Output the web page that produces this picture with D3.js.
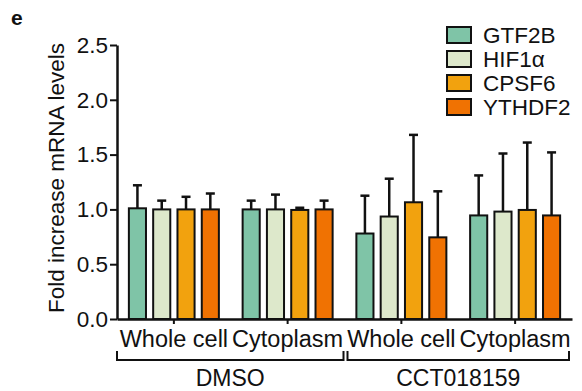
<!DOCTYPE html>
<html>
<head>
<meta charset="utf-8">
<script src="https://cdn.jsdelivr.net/npm/d3@7"></script>
<style>
  body { margin: 0; background: #fff; }
  text { font-family: "Liberation Sans", Arial, sans-serif; fill: #111; }
</style>
</head>
<body>
<div id="chart"></div>
<script>
// fractions along the x axis, and the treatment each belongs to
const fractions = ["DMSO|Whole cell", "DMSO|Cytoplasm", "CCT|Whole cell", "CCT|Cytoplasm"];
const fractionLabels = ["Whole cell", "Cytoplasm", "Whole cell", "Cytoplasm"];
const conditions = ["DMSO", "CCT018159"];
const genes = ["GTF2B", "HIF1α", "CPSF6", "YTHDF2"];
const geneColors = ["#7fc4a7", "#dde8cb", "#f2a20e", "#f07202"];

// mean fold increase per fraction (rows) and gene (columns)
const means = [
  [1.01, 1.00, 1.00, 1.00],
  [1.00, 1.00, 0.995, 1.00],
  [0.78, 0.935, 1.065, 0.745],
  [0.945, 0.98, 0.995, 0.945]
];
// upper error bar length
const errors = [
  [0.21, 0.08, 0.115, 0.145],
  [0.08, 0.135, 0.02, 0.08],
  [0.345, 0.345, 0.615, 0.42],
  [0.365, 0.53, 0.615, 0.575]
];
const yTicks = [0, 0.5, 1.0, 1.5, 2.0, 2.5];

const W = 582, H = 391;
const svg = d3.select("#chart").append("svg")
    .attr("width", W)
    .attr("height", H);

const x0 = d3.scaleBand()
    .domain(fractions)
    .range([117, 572])
    .padding(0);

const x1 = d3.scaleBand()
    .domain(genes)
    .range([-45, 45])
    .paddingInner(0.296);

const y = d3.scaleLinear()
    .domain([0, 2.5])
    .range([319, 45]);

const color = d3.scaleOrdinal(genes, geneColors);

// panel letter
svg.append("text")
    .attr("x", 11)
    .attr("y", 25)
    .style("font-size", "21px")
    .style("font-weight", "bold")
    .text("e");

// y axis
const yAxis = svg.append("g")
    .attr("transform", "translate(117,0)")
    .call(d3.axisLeft(y).tickValues(yTicks).tickFormat(d3.format(".1f")).tickSize(7).tickSizeOuter(0));
yAxis.select(".domain").attr("stroke", "#111").attr("stroke-width", 2.5);
yAxis.selectAll(".tick line").attr("stroke", "#111").attr("stroke-width", 2);
yAxis.selectAll(".tick text")
    .attr("x", -9)
    .style("font-size", "22.5px")
    .style("font-family", "Liberation Sans, Arial, sans-serif")
    .attr("fill", "#111");

svg.append("text")
    .attr("transform", "translate(64,178) rotate(-90)")
    .attr("text-anchor", "middle")
    .style("font-size", "22.5px")
    .text("Fold increase mRNA levels");

// bars
const rows = fractions.map((f, i) => ({
    fraction: f,
    values: genes.map((g, j) => ({ gene: g, mean: means[i][j], err: errors[i][j] }))
}));

const group = svg.selectAll(".group")
    .data(rows)
    .enter()
    .append("g")
    .attr("class", "group")
    .attr("transform", d => "translate(" + (x0(d.fraction) + x0.bandwidth() / 2) + ",0)");

const bw = x1.bandwidth();

// error bars behind bars
group.selectAll(".err")
    .data(d => d.values)
    .enter()
    .append("line")
    .attr("x1", d => x1(d.gene) + bw / 2)
    .attr("x2", d => x1(d.gene) + bw / 2)
    .attr("y1", d => y(d.mean))
    .attr("y2", d => y(d.mean + d.err))
    .attr("stroke", "#111")
    .attr("stroke-width", 2.5);

group.selectAll(".cap")
    .data(d => d.values)
    .enter()
    .append("line")
    .attr("x1", d => x1(d.gene) + bw / 2 - 4.5)
    .attr("x2", d => x1(d.gene) + bw / 2 + 4.5)
    .attr("y1", d => y(d.mean + d.err))
    .attr("y2", d => y(d.mean + d.err))
    .attr("stroke", "#111")
    .attr("stroke-width", 2.5);

group.selectAll("rect")
    .data(d => d.values)
    .enter()
    .append("rect")
    .attr("x", d => x1(d.gene))
    .attr("y", d => y(d.mean))
    .attr("width", bw)
    .attr("height", d => y(0) - y(d.mean))
    .attr("fill", d => color(d.gene))
    .attr("stroke", "#111")
    .attr("stroke-width", 2);

// x axis
const xAxis = svg.append("g")
    .attr("transform", "translate(0,319)")
    .call(d3.axisBottom(x0).tickSize(5).tickSizeOuter(0).tickFormat(""));
xAxis.select(".domain").attr("stroke", "#111").attr("stroke-width", 2.5);
xAxis.selectAll(".tick line").attr("stroke", "#111").attr("stroke-width", 2);

svg.selectAll(".xlab")
    .data(fractions)
    .enter()
    .append("text")
    .attr("class", "xlab")
    .attr("x", d => x0(d) + x0.bandwidth() / 2)
    .attr("y", 347)
    .attr("text-anchor", "middle")
    .style("font-size", "23.5px")
    .text((d, i) => fractionLabels[i]);

// treatment brackets
conditions.forEach((c, i) => {
    const a = x0(fractions[i * 2]) + (i === 0 ? 0 : 3);
    const b = x0(fractions[i * 2 + 1]) + x0.bandwidth() - (i === 0 ? 1 : 3);
    svg.append("path")
        .attr("d", `M${a},351V360H${b}V351`)
        .attr("fill", "none")
        .attr("stroke", "#111")
        .attr("stroke-width", 2);
    svg.append("text")
        .attr("x", (a + b) / 2)
        .attr("y", 386)
        .attr("text-anchor", "middle")
        .style("font-size", "23px")
        .text(c);
});

// legend
const legend = svg.selectAll(".legend")
    .data(genes)
    .enter()
    .append("g")
    .attr("class", "legend")
    .attr("transform", (d, i) => "translate(447," + (35 + i * 24) + ")");

legend.append("rect")
    .attr("x", 0)
    .attr("y", -8)
    .attr("width", 24)
    .attr("height", 16)
    .attr("fill", d => color(d))
    .attr("stroke", "#111")
    .attr("stroke-width", 2);

legend.append("text")
    .attr("x", 36)
    .attr("y", 8)
    .style("font-size", "22.5px")
    .text(d => d);
</script>
</body>
</html>
